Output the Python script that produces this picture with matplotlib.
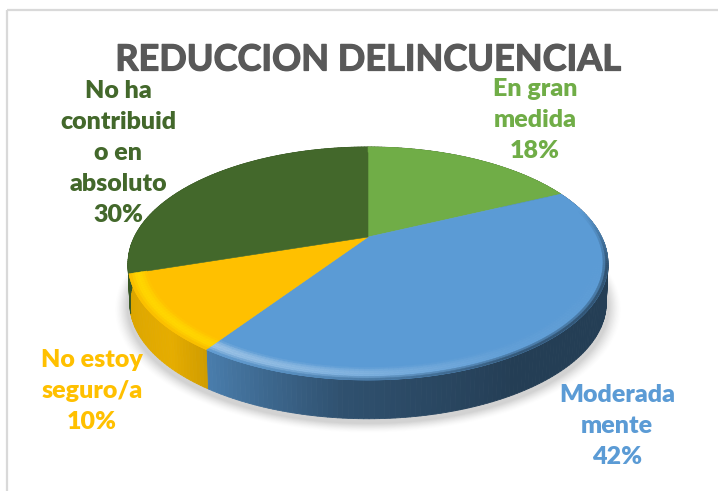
import numpy as np
import matplotlib
matplotlib.use("Agg")
import matplotlib.pyplot as plt
import matplotlib.patheffects as pe
from matplotlib.collections import PolyCollection
from matplotlib.colors import to_rgb
from matplotlib.patches import Polygon, Rectangle

title = "REDUCCION DELINCUENCIAL"
categories = ["En gran\nmedida", "Moderada\nmente", "No estoy\nseguro/a", "No ha\ncontribuid\no en\nabsoluto"]
values = [18, 41.5, 10.5, 30]
percent_labels = ["18%", "42%", "10%", "30%"]
colors = ["#70ad47", "#5b9bd5", "#ffc000", "#43682b"]
label_pos = [(535, 119.5), (617, 426), (92, 391), (118, 153)]

CX, CY, A, B, K, DEPTH = 368, 237, 110.5, 233.7, 0.2275, 40


def project(theta, s=1.0, d=0.0):
    u, v = s * np.sin(theta), s * np.cos(theta)
    w = 1 + K * v
    return CX + B * u / w, CY - A * v / w + d


def mix(c1, c2, t):
    return tuple((1 - t) * np.array(c1) + t * np.array(c2))


def side_shade(deg):
    return np.interp(deg, [60, 150, 185, 215, 225, 262, 300], [0.40, 0.40, 0.52, 0.82, 0.90, 0.84, 0.78])


fig = plt.figure(figsize=(7.18, 4.91), dpi=100)
ax = fig.add_axes([0, 0, 1, 1])
ax.set_xlim(0, 718)
ax.set_ylim(491, 0)
ax.axis("off")
ax.add_patch(Rectangle((7, 10), 800, 600, fill=False, ec="#d9d9d9", lw=1.6))

# soft shadow
th = np.linspace(0, 2 * np.pi, 361)
for i, a in zip(range(10), np.linspace(0.015, 0.06, 10)):
    grow = 1.05 - i * 0.005
    x, y = project(th, grow, DEPTH + 3)
    ax.add_patch(Polygon(np.c_[x, y], fc="#808080", ec="none", alpha=a, zorder=1))

edges = np.deg2rad(np.cumsum([0] + values) * 3.6)
ang_steps = 1.0

# side wall
polys, cols = [], []
for k, c in enumerate(colors):
    base = to_rgb(c)
    a0, a1 = np.rad2deg(edges[k]), np.rad2deg(edges[k + 1])
    grid = np.arange(a0, a1 + ang_steps, ang_steps).clip(a0, a1)
    for g0, g1 in zip(grid[:-1], grid[1:]):
        if g1 <= g0:
            continue
        f = side_shade((g0 + g1) / 2)
        t0, t1 = np.deg2rad(g0), np.deg2rad(g1)
        x00, y00 = project(t0, 1, 0)
        x10, y10 = project(t1, 1, 0)
        x01, y01 = project(t0, 0.993, DEPTH)
        x11, y11 = project(t1, 0.993, DEPTH)
        polys.append([(x00, y00), (x10, y10), (x11, y11), (x01, y01)])
        cols.append(tuple(np.array(base) * f))
ax.add_collection(PolyCollection(polys, facecolors=cols, edgecolors=cols, linewidths=0.6, zorder=2))

# top faces
for k, c in enumerate(colors):
    t = np.linspace(edges[k], edges[k + 1], 200)
    x, y = project(t)
    ax.add_patch(Polygon(np.r_[[(CX, CY)], np.c_[x, y]], fc=c, ec=c, lw=0.4, zorder=3))

# bevel along the rim (the dark green slice shows none)
polys, cols = [], []
rings = np.linspace(0.93, 1.0, 8)
for k, c in enumerate(colors[:3]):
    base = np.array(to_rgb(c))
    a0, a1 = np.rad2deg(edges[k]), np.rad2deg(edges[k + 1])
    grid = np.arange(a0, a1 + ang_steps, ang_steps).clip(a0, a1)
    for g0, g1 in zip(grid[:-1], grid[1:]):
        if g1 <= g0:
            continue
        m = (g0 + g1) / 2
        front = np.clip((np.cos(np.deg2rad(m)) * -1 + 0.25) / 0.5, 0, 1)
        hl = np.interp(m, [100, 150, 190, 225, 262], [0, 0.05, 0.28, 0.45, 0.45]) * front
        dark = side_shade(m)
        t0, t1 = np.deg2rad(g0), np.deg2rad(g1)
        for r, (s0, s1) in enumerate(zip(rings[:-1], rings[1:])):
            q = (r + 0.5) / (len(rings) - 1)
            xa, ya = project(t0, s0)
            xb, yb = project(t1, s0)
            xc, yc = project(t1, s1)
            xd, yd = project(t0, s1)
            bump = hl * np.sin(np.pi * q)
            col = mix(base, (1, 1, 1) if c != "#ffc000" else (1, 0.95, 0), bump)
            edge_dark = np.clip((q - 0.65) / 0.35, 0, 1)
            if front > 0:
                col = mix(col, base * dark, edge_dark * (1 - min(hl * 2, 0.8)) * front)
            polys.append([(xa, ya), (xb, yb), (xc, yc), (xd, yd)])
            cols.append(tuple(col))
ax.add_collection(PolyCollection(polys, facecolors=cols, edgecolors=cols, linewidths=0.3, zorder=4))

ax.text(368, 60, title, ha="center", va="center", family="Lato", weight="bold",
        fontsize=26, color="#595959", zorder=6,
        path_effects=[pe.withStroke(linewidth=0.9, foreground="#595959")])
for name, pct, col, (lx, ly) in zip(categories, percent_labels, colors, label_pos):
    ax.text(lx, ly, f"{name}\n{pct}", ha="center", va="center", family="Lato", weight="heavy",
            fontsize=18, color=col, linespacing=1.5, zorder=6)

fig.savefig("out.png", dpi=100, facecolor="white")
